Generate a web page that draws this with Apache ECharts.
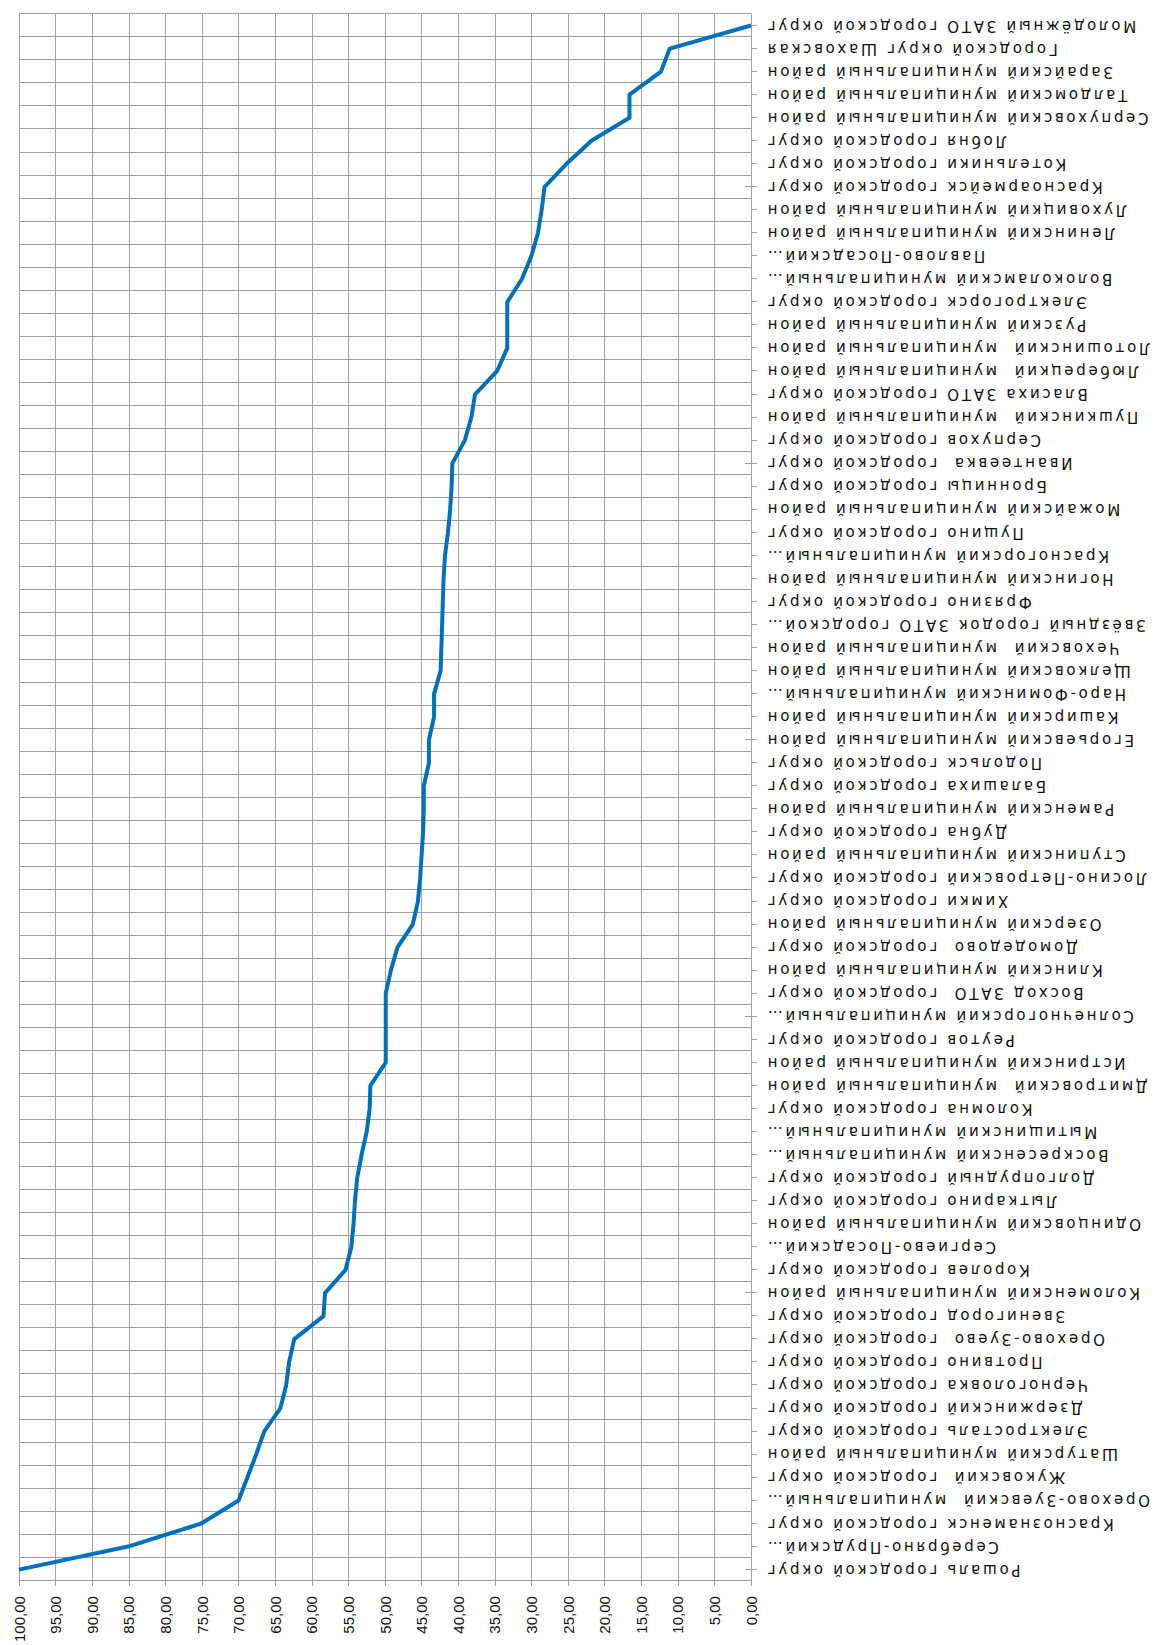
<!DOCTYPE html>
<html>
<head>
<meta charset="utf-8">
<script src="https://cdn.jsdelivr.net/npm/echarts@6/dist/echarts.min.js"></script>
<style>
html, body { margin: 0; padding: 0; background: #ffffff; overflow: hidden; width: 1157px; height: 1645px; }
#chart {
  position: absolute; left: 0; top: 0;
  width: 1645px; height: 1157px;
  transform-origin: 0 0;
  transform: translate(0px, 1645px) rotate(-90deg);
}
#chart text { white-space: pre; }
#chart text[style*="DejaVu"] { letter-spacing: 2.7px; }
</style>
</head>
<body>
<div id="chart"></div>
<script>
// Categories in original chart order (first = largest value)
const categories = [
  'Рошаль городской округ',
  'Серебряно-Прудский…',
  'Краснознаменск городской округ',
  'Орехово-Зуевский  муниципальный…',
  'Жуковский  городской округ',
  'Шатурский муниципальный район',
  'Электросталь городской округ',
  'Дзержинский городской округ',
  'Черноголовка городской округ',
  'Протвино городской округ',
  'Орехово-Зуево  городской округ',
  'Звенигород городской округ',
  'Коломенский муниципальный район',
  'Королев городской округ',
  'Сергиево-Посадский…',
  'Одинцовский муниципальный район',
  'Лыткарино городской округ',
  'Долгопрудный городской округ',
  'Воскресенский муниципальный…',
  'Мытищинский муниципальный…',
  'Коломна городской округ',
  'Дмитровский  муниципальный район',
  'Истринский муниципальный район',
  'Реутов городской округ',
  'Солнечногорский муниципальный…',
  'Восход ЗАТО  городской округ',
  'Клинский муниципальный район',
  'Домодедово  городской округ',
  'Озерский муниципальный район',
  'Химки городской округ',
  'Лосино-Петровский городской округ',
  'Ступинский муниципальный район',
  'Дубна городской округ',
  'Раменский муниципальный район',
  'Балашиха городской округ',
  'Подольск городской округ',
  'Егорьевский муниципальный район',
  'Каширский муниципальный район',
  'Наро-Фоминский муниципальный…',
  'Щелковский муниципальный район',
  'Чеховский  муниципальный район',
  'Звёздный городок ЗАТО городской…',
  'Фрязино городской округ',
  'Ногинский муниципальный район',
  'Красногорский муниципальный…',
  'Пущино городской округ',
  'Можайский муниципальный район',
  'Бронницы городской округ',
  'Ивантеевка  городской округ',
  'Серпухов городской округ',
  'Пушкинский  муниципальный район',
  'Власиха ЗАТО городской округ',
  'Люберецкий  муниципальный район',
  'Лотошинский  муниципальный район',
  'Рузский муниципальный район',
  'Электрогорск городской округ',
  'Волоколамский муниципальный…',
  'Павлово-Посадский…',
  'Ленинский муниципальный район',
  'Луховицкий муниципальный район',
  'Красноармейск городской округ',
  'Котельники городской округ',
  'Лобня городской округ',
  'Серпуховский муниципальный район',
  'Талдомский муниципальный район',
  'Зарайский муниципальный район',
  'Городской округ Шаховская',
  'Молодёжный ЗАТО городской округ'
];

const values = [
  100.0, 85.1, 75.1, 70.0, 68.8, 67.6, 66.5, 64.3, 63.5, 63.1,
  62.4, 58.4, 58.2, 55.4, 54.6, 54.3, 54.1, 53.8, 53.2, 52.5,
  52.1, 52.0, 49.9, 49.9, 49.9, 49.9, 49.2, 48.3, 46.2, 45.5,
  45.2, 45.0, 44.8, 44.7, 44.7, 44.0, 44.0, 43.3, 43.3, 42.4,
  42.3, 42.2, 42.1, 42.0, 41.8, 41.4, 41.1, 40.9, 40.8, 39.1,
  38.2, 37.7, 34.7, 33.3, 33.3, 33.3, 31.3, 30.0, 29.1, 28.6,
  28.2, 25.2, 21.8, 16.6, 16.6, 12.3, 11.1, 0.0
];

// Value axis ticks
const valueMin = 0;
const valueMax = 100;
const valueStep = 5;

const gridColor = '#a0a0a0';
const LETTER_SPACING = '2.7px';

const chart = echarts.init(document.getElementById('chart'), null, { renderer: 'svg' });

chart.setOption({
  animation: false,
  backgroundColor: '#ffffff',
  grid: { left: 63, right: 14, top: 19, bottom: 406 },
  xAxis: [
    {
      type: 'category',
      data: categories,
      boundaryGap: true,
      axisLine: { show: true, lineStyle: { color: gridColor, width: 1 } },
      axisTick: { show: true, alignWithLabel: true, length: 6, lineStyle: { color: gridColor } },
      splitLine: { show: true, lineStyle: { color: gridColor, width: 1 } },
      axisLabel: {
        interval: 0,
        rotate: 90,
        margin: 14,
        color: '#111111',
        fontFamily: 'DejaVu Sans',
        fontSize: 15
      }
    },
    {
      type: 'category',
      data: categories,
      boundaryGap: true,
      position: 'bottom',
      axisLine: { show: false },
      axisTick: { show: true, inside: true, alignWithLabel: true, length: 6, lineStyle: { color: gridColor } },
      splitLine: { show: false },
      axisLabel: { show: false }
    }
  ],
  yAxis: {
    type: 'value',
    min: valueMin,
    max: valueMax,
    interval: valueStep,
    axisLine: { show: true, lineStyle: { color: gridColor, width: 1 } },
    axisTick: { show: true, length: 5, lineStyle: { color: gridColor } },
    splitLine: { show: true, lineStyle: { color: gridColor, width: 1 } },
    axisLabel: {
      margin: 15,
      color: '#111111',
      fontFamily: 'Liberation Sans',
      fontSize: 15,
      formatter: function (v) { return v.toFixed(2).replace('.', ','); }
    }
  },
  series: [{
    type: 'line',
    data: values,
    xAxisIndex: 0,
    symbol: 'none',
    lineStyle: { color: '#0070C0', width: 4, join: 'round' },
    itemStyle: { color: '#0070C0' }
  }]
});

function applySpacing() {
  const set = new Set(categories);
  document.querySelectorAll('#chart text').forEach(function (t) {
    if (set.has(t.textContent)) { t.style.letterSpacing = LETTER_SPACING; t.style.whiteSpace = 'pre'; }
  });
}
chart.on('finished', applySpacing);
setTimeout(applySpacing, 0);
</script>
</body>
</html>
